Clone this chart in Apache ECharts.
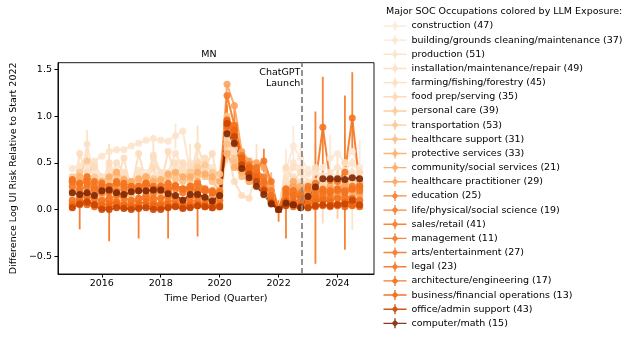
<!DOCTYPE html>
<html><head><meta charset="utf-8">
<script src="https://cdn.jsdelivr.net/npm/echarts@6/dist/echarts.min.js"></script>
<style>html,body{margin:0;padding:0;background:#fff}#c{width:634px;height:337px}</style>
</head><body><div id="c"></div>
<script>
// ---------------- DATA ----------------
const periods = ["2015Q1","2015Q2","2015Q3","2015Q4","2016Q1","2016Q2","2016Q3","2016Q4",
  "2017Q1","2017Q2","2017Q3","2017Q4","2018Q1","2018Q2","2018Q3","2018Q4",
  "2019Q1","2019Q2","2019Q3","2019Q4","2020Q1","2020Q2","2020Q3","2020Q4",
  "2021Q1","2021Q2","2021Q3","2021Q4","2022Q1","2022Q2","2022Q3","2022Q4",
  "2023Q1","2023Q2","2023Q3","2023Q4","2024Q1","2024Q2","2024Q3","2024Q4"];

const occupations = ["construction (47)","building/grounds cleaning/maintenance (37)","production (51)",
  "installation/maintenance/repair (49)","farming/fishing/forestry (45)","food prep/serving (35)",
  "personal care (39)","transportation (53)","healthcare support (31)","protective services (33)",
  "community/social services (21)","healthcare practitioner (29)","education (25)",
  "life/physical/social science (19)","sales/retail (41)","management (11)","arts/entertainment (27)",
  "legal (23)","architecture/engineering (17)","business/financial operations (13)",
  "office/admin support (43)","computer/math (15)"];

const colors = ["#fde8d6","#fde4cc","#fde1c6","#fddec0","#fddbba","#fdd6b0","#fdc893","#fdc48c",
  "#fdbd82","#fdad68","#fda55e","#fda35d","#f77b29","#f67926","#f67824","#f57723","#f57521",
  "#f4721e","#f26b17","#ee6511","#c84603","#7f2704"];

const construction    = [0.30,0.35,0.45,0.40, 0.32,0.38,0.42,0.35, 0.30,0.36,0.40,0.34, 0.32,0.38,0.45,0.40, 0.35,0.45,0.40,0.30, 0.02,0.60,0.55,0.40, 0.30,0.25,0.18,0.08, 0,0.42,0.68,0.55, 0.43,0.40,0.45,0.55, 0.60,0.50,0.62,0.45];
const buildingGrounds = [0.44,0.47,0.50,0.52, 0.57,0.62,0.64,0.64, 0.68,0.71,0.74,0.76, 0.74,0.73,0.79,0.84, 0.40,0.52,0.50,0.45, 0.10,0.70,0.50,0.45, 0.35,0.30,0.22,0.12, 0,0.35,0.50,0.45, 0.38,0.42,0.36,0.40, 0.45,0.42,0.50,0.40];
const production      = [0.20,0.25,0.70,0.30, 0.28,0.45,0.30,0.35, 0.30,0.42,0.32,0.55, 0.35,0.40,0.60,0.45, 0.50,0.45,0.40,0.35, 0.10,0.85,0.60,0.45, 0.35,0.30,0.20,0.15, 0,0.30,0.45,0.40, 0.30,0.25,0.35,0.30, 0.35,0.30,0.40,0.30];
const installation    = [0.25,0.30,0.40,0.48, 0.35,0.30,0.50,0.40, 0.30,0.35,0.30,0.58, 0.40,0.35,0.50,0.40, 0.45,0.30,0.55,0.40, 0.30,0.75,0.65,0.50, 0.40,0.35,0.25,0.15, 0,0.25,0.35,0.30, 0.25,0.20,0.30,0.25, 0.35,0.30,0.28,0.30];
const farming         = [0.10,0.60,0.35,0.45, 0.25,0.50,0.30,0.55, 0.20,0.60,0.30,0.45, 0.25,0.62,0.35,0.50, 0.30,0.68,0.45,0.60, 0.20,0.65,0.30,0.15, 0.12,0.40,0.15,0.10, 0,0.45,0.30,0.40, 0.15,0.45,0.20,0.35, 0.20,0.50,0.25,0.40];
const foodPrep        = [0.15,0.20,0.25,0.30, 0.20,0.25,0.30,0.25, 0.22,0.28,0.30,0.32, 0.30,0.35,0.32,0.30, 0.35,0.50,0.40,0.38, 0.15,0.95,0.70,0.55, 0.48,0.40,0.30,0.18, 0,0.20,0.30,0.28, 0.25,0.30,0.28,0.25, 0.30,0.28,0.32,0.30];
const personalCare    = [0.35,0.40,0.52,0.35, 0.30,0.33,0.40,0.33, 0.30,0.32,0.35,0.33, 0.30,0.36,0.38,0.35, 0.40,0.45,0.48,0.40, 0.38,1.00,0.85,0.60, 0.48,0.42,0.30,0.15, 0,0.22,0.30,0.20, 0.20,0.18,0.22,0.20, 0.22,0.25,0.20,0.22];
const transportation  = [0.25,0.30,0.35,0.30, 0.28,0.30,0.33,0.30, 0.28,0.30,0.33,0.28, 0.30,0.35,0.33,0.30, 0.32,0.36,0.35,0.30, 0.20,0.80,0.55,0.40, 0.35,0.28,0.20,0.10, 0,0.15,0.25,0.20, 0.15,0.18,0.20,0.15, 0.20,0.18,0.22,0.20];
const healthSupport   = [0.10,0.15,0.20,0.18, 0.12,0.20,0.15,0.18, 0.15,0.20,0.18,0.15, 0.18,0.20,0.15,0.18, 0.20,0.25,0.20,0.18, 0.15,0.70,0.50,0.35, 0.30,0.25,0.18,0.10, 0,0.12,0.15,0.12, 0.15,0.12,0.15,0.12, 0.15,0.12,0.15,0.18];
const protective      = [0.30,0.35,0.30,0.28, 0.30,0.35,0.40,0.32, 0.30,0.33,0.35,0.30, 0.32,0.38,0.40,0.35, 0.35,0.40,0.38,0.35, 0.30,0.60,0.45,0.40, 0.30,0.28,0.22,0.15, 0,0.18,0.30,0.25, 0.20,0.22,0.20,0.25, 0.22,0.30,0.25,0.28];
const community       = [0.08,0.12,0.15,0.10, 0.08,0.12,0.10,0.08, 0.10,0.12,0.15,0.10, 0.12,0.15,0.12,0.10, 0.15,0.18,0.12,0.15, 0.10,0.90,0.75,0.55, 0.45,0.40,0.30,0.15, 0,0.20,0.18,0.15, 0.12,0.15,0.18,0.15, 0.15,0.18,0.20,0.15];
const healthPract     = [0.20,0.25,0.22,0.20, 0.18,0.25,0.22,0.20, 0.22,0.25,0.28,0.22, 0.20,0.28,0.25,0.22, 0.25,0.30,0.22,0.20, 0.18,1.34,1.11,0.62, 0.52,0.50,0.45,0.25, 0,0.18,0.25,0.20, 0.15,0.20,0.18,0.22, 0.20,0.25,0.22,0.18];
const education       = [0.30,0.22,0.25,0.20, 0.18,0.22,0.20,0.15, 0.20,0.25,0.22,0.18, 0.20,0.25,0.22,0.18, 0.22,0.25,0.20,0.18, 0.15,1.22,0.90,0.58, 0.45,0.42,0.35,0.20, 0,0.22,0.20,0.18, 0.22,0.20,0.18,0.20, 0.22,0.20,0.25,0.22];
const lifeScience     = [0.05,0.10,0.08,0.05, 0.08,0.10,0.06,0.05, 0.08,0.10,0.12,0.08, 0.06,0.10,0.08,0.05, 0.08,0.10,0.05,0.06, 0.05,0.88,0.75,0.48, 0.40,0.35,0.22,0.10, 0,0.10,0.15,0.12, 0.08,0.10,0.12,0.10, 0.12,0.10,0.12,0.10];
const salesRetail     = [0.25,0.28,0.30,0.25, 0.22,0.25,0.28,0.25, 0.22,0.25,0.28,0.22, 0.25,0.28,0.25,0.22, 0.25,0.28,0.22,0.20, 0.18,0.93,0.82,0.52, 0.42,0.38,0.28,0.14, 0,0.15,0.18,0.15, 0.15,0.20,0.22,0.20, 0.22,0.20,0.22,0.20];
const management      = [0.10,0.12,0.15,0.12, 0.10,0.12,0.15,0.12, 0.10,0.12,0.15,0.12, 0.12,0.14,0.12,0.10, 0.12,0.14,0.10,0.08, 0.10,0.85,0.70,0.45, 0.36,0.30,0.20,0.08, 0,0.08,0.10,0.08, 0.10,0.12,0.15,0.12, 0.12,0.14,0.12,0.10];
const arts            = [0.30,0.20,0.28,0.22, 0.25,0.18,0.28,0.22, 0.25,0.20,0.28,0.22, 0.25,0.20,0.26,0.22, 0.25,0.20,0.22,0.18, 0.20,0.96,0.90,0.55, 0.48,0.45,0.52,0.30, 0,0.22,0.20,0.15, 0.25,0.28,0.88,0.31, 0.30,0.40,0.98,0.25];
const legal           = [0.32,0.28,0.35,0.30, 0.28,0.25,0.30,0.28, 0.25,0.22,0.28,0.25, 0.22,0.20,0.25,0.22, 0.22,0.18,0.20,0.18, 0.15,0.92,0.85,0.55, 0.45,0.40,0.30,0.15, 0,0.18,0.15,0.12, 0.10,0.15,0.20,0.18, 0.20,0.18,0.22,0.25];
const architecture    = [0.05,0.08,0.10,0.06, 0.05,0.06,0.08,0.05, 0.04,0.06,0.08,0.05, 0.05,0.06,0.05,0.04, 0.05,0.06,0.05,0.04, 0.05,0.90,0.80,0.50, 0.40,0.32,0.22,0.10, 0,0.10,0.08,0.05, 0.05,0.08,0.10,0.08, 0.06,0.08,0.05,0.04];
const business        = [0.03,0.05,0.05,0.03, 0.02,0.03,0.04,0.02, 0.02,0.03,0.04,0.03, 0.02,0.03,0.04,0.02, 0.03,0.04,0.03,0.02, 0.03,0.95,0.85,0.55, 0.45,0.35,0.22,0.08, 0,0.05,0.03,0.02, 0.02,0.03,0.04,0.03, 0.04,0.03,0.04,0.03];
const officeAdmin     = [0.02,0.06,0.08,0.05, 0.00,0.00,0.02,0.01, 0.00,0.01,0.02,0.00, 0.00,0.02,0.03,0.01, 0.02,0.04,0.03,0.02, 0.03,0.92,0.78,0.48, 0.38,0.30,0.20,0.07, 0,0.04,0.05,0.03, 0.02,0.04,0.05,0.04, 0.05,0.06,0.10,0.05];
const computerMath    = [0.18,0.16,0.18,0.15, 0.20,0.21,0.18,0.16, 0.19,0.20,0.20,0.21, 0.21,0.17,0.15,0.10, 0.16,0.16,0.13,0.09, 0.15,0.81,0.71,0.44, 0.34,0.25,0.16,0.06, 0,0.07,0.05,0.02, 0.14,0.24,0.33,0.33, 0.33,0.32,0.34,0.33];

const seriesValues = [construction,buildingGrounds,production,installation,farming,foodPrep,
  personalCare,transportation,healthSupport,protective,community,healthPract,education,
  lifeScience,salesRetail,management,arts,legal,architecture,business,officeAdmin,computerMath];

// [occupation index, period index, lower, upper]
const errorBars = [
  [0,5,0.20,0.55],[0,30,0.45,0.90],[0,35,0.30,0.80],[0,39,0.10,0.75],
  [1,2,0.25,0.72],[1,14,0.65,0.92],[1,29,0.10,0.65],[1,31,0.30,0.70],
  [2,2,0.45,0.85],[2,16,0.30,0.70],[2,38,-0.22,0.55],
  [3,11,0.35,0.80],[3,36,0.10,0.60],
  [4,5,0.30,0.70],[4,17,0.45,0.90],[4,25,0.20,0.70],[4,33,0.20,0.70],[4,37,0.20,0.80],
  [5,34,-0.15,0.40],[6,36,-0.10,0.45],[8,21,0.50,0.90],[9,27,0.05,0.40],
  [12,22,0.80,1.15],[16,21,0.80,1.12],[16,24,0.38,0.55],[16,26,0.40,0.65],[16,28,-0.13,0.10],
  [16,33,-0.58,1.05],[16,34,0.30,1.42],[16,37,-0.43,1.22],[16,38,0.65,1.47],
  [17,1,-0.21,0.40],[17,2,0.20,0.55],[17,5,-0.34,0.45],[17,9,-0.31,0.35],[17,13,-0.31,0.40],
  [17,17,-0.29,0.40],[17,29,-0.31,0.30]
];

const yTicks = [-0.5, 0, 0.5, 1.0, 1.5];
const xTicks = [2016, 2018, 2020, 2022, 2024];
const chatGptLaunch = 2022.79;

// ---------------- CHART ----------------
const FONT = 'DejaVu Sans';
const toX = p => +p.slice(0,4) + (+p.slice(5) - 1) / 4;
const xs = periods.map(toX);

const chart = echarts.init(document.getElementById('c'), null, {renderer: 'canvas'});
const series = [];
occupations.forEach((name, i) => {
  const col = colors[i];
  const errs = errorBars.filter(e => e[0] === i).map(e => [xs[e[1]], e[2], e[3]]);
  series.push({
    type: 'custom', name: name + ' err', silent: true, clip: true,
    data: errs, encode: {x: 0, y: [1, 2]},
    renderItem: (params, api) => {
      const p1 = api.coord([api.value(0), api.value(1)]);
      const p2 = api.coord([api.value(0), api.value(2)]);
      return {type: 'line', shape: {x1: p1[0], y1: p1[1], x2: p2[0], y2: p2[1]},
        style: {stroke: col, lineWidth: 1.8, opacity: 0.9}};
    }
  });
  const s = {
    type: 'line', name: name, data: xs.map((x, k) => [x, seriesValues[i][k]]),
    symbol: 'circle', symbolSize: 7, showSymbol: true,
    itemStyle: {color: col, opacity: 0.9}, lineStyle: {color: col, width: 2, opacity: 0.9},
    emphasis: {disabled: true}
  };
  if (i === 0) {
    s.markLine = {silent: true, symbol: 'none', label: {show: false},
      lineStyle: {color: '#888', type: [6, 3], width: 1.8},
      data: [{xAxis: chatGptLaunch}]};
  }
  series.push(s);
});

const legendIcon = 'path://M0,4.3H23V5.7H0Z M8,5L11.5,1.5L15,5L11.5,8.5Z M10.8,0H12.2V10H10.8Z';

chart.setOption({
  animation: false,
  textStyle: {fontFamily: FONT},
  title: [{text: 'MN', left: 209, top: 50, textAlign: 'center', padding: 0,
    textStyle: {fontFamily: FONT, fontSize: 9.5, fontWeight: 'normal', color: '#000'}},
    {text: 'Major SOC Occupations colored by LLM Exposure:', left: 386, top: 7, padding: 0,
    textStyle: {fontFamily: FONT, fontSize: 9.5, fontWeight: 'normal', color: '#000'}}],
  grid: {left: 44, right: 260, top: 62.7, bottom: 63, show: true, borderColor: '#000', borderWidth: 0.9},
  xAxis: {type: 'value', min: 2014.5125, max: 2025.2375,
    name: 'Time Period (Quarter)', nameLocation: 'middle', nameGap: 15,
    nameTextStyle: {fontFamily: FONT, fontSize: 9.5, color: '#000'},
    splitLine: {show: false}, axisLine: {show: true, onZero: false, lineStyle: {color: '#000', width: 0.9}},
    axisTick: {show: true, inside: false, length: 3.5, lineStyle: {color: '#000'}, customValues: xTicks},
    axisLabel: {customValues: xTicks, color: '#000', fontSize: 9.5, fontFamily: FONT, margin: 5,
      formatter: v => String(v)}},
  yAxis: {type: 'value', min: -0.69, max: 1.571,
    name: 'Difference Log UI Risk Relative to Start 2022', nameLocation: 'middle', nameGap: 39,
    nameTextStyle: {fontFamily: FONT, fontSize: 9.5, color: '#000'},
    splitLine: {show: false}, axisLine: {show: true, onZero: false, lineStyle: {color: '#000', width: 0.9}},
    axisTick: {show: true, inside: false, length: 3.5, lineStyle: {color: '#000'}, customValues: yTicks},
    axisLabel: {customValues: yTicks, color: '#000', fontSize: 9.5, fontFamily: FONT, margin: 6,
      formatter: v => (v < 0 ? '\u2212' : '') + Math.abs(v).toFixed(1)}},
  legend: {orient: 'vertical', left: 383.5, top: 21, padding: 0, itemGap: 4.16,
    itemWidth: 23, itemHeight: 10, icon: legendIcon, data: occupations,
    textStyle: {fontFamily: FONT, fontSize: 9.5, color: '#000', lineHeight: 10}},
  series: series
});

const lx = chart.convertToPixel({xAxisIndex: 0}, chatGptLaunch);
chart.setOption({graphic: [{type: 'text', x: lx - 1.5, y: 67.5, silent: true,
  style: {text: 'ChatGPT\nLaunch', align: 'right', verticalAlign: 'top', lineHeight: 11,
    font: '9.5px "DejaVu Sans"', fill: '#000'}}]});
</script></body></html>
